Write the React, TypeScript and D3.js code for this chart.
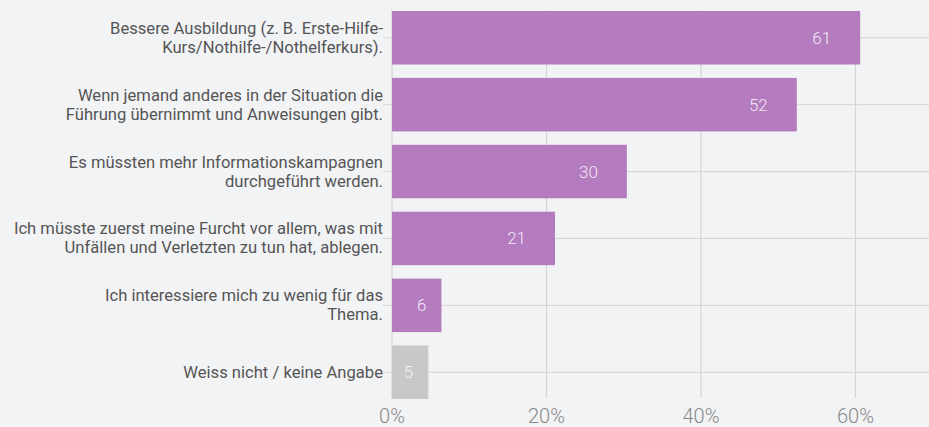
import React from "react";
import * as d3 from "d3";

const categories: string[][] = [
  ["Bessere Ausbildung (z. B. Erste-Hilfe-", "Kurs/Nothilfe-/Nothelferkurs)."],
  ["Wenn jemand anderes in der Situation die", "Führung übernimmt und Anweisungen gibt."],
  ["Es müssten mehr Informationskampagnen", "durchgeführt werden."],
  ["Ich müsste zuerst meine Furcht vor allem, was mit", "Unfällen und Verletzten zu tun hat, ablegen."],
  ["Ich interessiere mich zu wenig für das", "Thema."],
  ["Weiss nicht / keine Angabe"],
];
const values: number[] = [60.6, 52.4, 30.4, 21.1, 6.4, 4.7];
const valueLabels: string[] = ["61", "52", "30", "21", "6", "5"];
const isNoAnswer: boolean[] = [false, false, false, false, false, true];
const xTicks: number[] = [0, 20, 40, 60];

const W = 929;
const H = 427;

export default function App() {
  const x = d3.scaleLinear().domain([0, 70]).range([392, 392 + 70 * 7.725]);
  const y = d3
    .scaleBand<number>()
    .domain(values.map((_, i) => i))
    .range([11, 399])
    .paddingInner(0.2)
    .paddingOuter(0);
  const bw = y.bandwidth();
  const font = "Roboto, 'Noto Sans', sans-serif";
  return (
    <svg
      width={W}
      height={H}
      style={{ position: "absolute", left: 0, top: 0, background: "#f2f3f5" }}
    >
      <rect x={0} y={0} width={W} height={H} fill="#f2f3f5" />
      {values.map((_, i) => {
        const cy = (y(i) as number) + bw / 2;
        return (
          <line
            key={"h" + i}
            x1={383}
            x2={W}
            y1={cy}
            y2={cy}
            stroke="#d4d4d6"
            strokeWidth={1}
          />
        );
      })}
      {xTicks.map((t) => (
        <line
          key={"v" + t}
          x1={x(t)}
          x2={x(t)}
          y1={10}
          y2={398}
          stroke="#d4d4d6"
          strokeWidth={1.2}
        />
      ))}
      {values.map((v, i) => (
        <rect
          key={"b" + i}
          x={x(0)}
          y={y(i)}
          width={x(v) - x(0)}
          height={bw}
          fill={isNoAnswer[i] ? "#c8c8c8" : "#b57bbf"}
        />
      ))}
      {values.map((v, i) => {
        const w = x(v) - x(0);
        const off = w < 60 ? 15 : 29;
        return (
          <text
            key={"vl" + i}
            x={x(v) - off}
            y={(y(i) as number) + bw / 2 + 6}
            textAnchor="end"
            fontFamily={font}
            fontSize={17}
            fontWeight={300}
            fill="rgba(255,255,255,0.85)"
          >
            {valueLabels[i]}
          </text>
        );
      })}
      {categories.map((lines, i) => {
        const cy = (y(i) as number) + bw / 2;
        const lh = 19;
        const start = cy - ((lines.length - 1) * lh) / 2 + 5.5;
        return (
          <text
            key={"c" + i}
            textAnchor="end"
            fontFamily={font}
            fontSize={16.6}
            fill="#555"
          >
            {lines.map((l, j) => (
              <tspan key={j} x={383} y={start + j * lh}>
                {l}
              </tspan>
            ))}
          </text>
        );
      })}
      {xTicks.map((t) => (
        <text
          key={"t" + t}
          x={x(t)}
          y={423}
          textAnchor="middle"
          fontFamily={font}
          fontSize={20}
          fontWeight={300}
          fill="#888"
        >
          {d3.format("d")(t) + "%"}
        </text>
      ))}
    </svg>
  );
}
